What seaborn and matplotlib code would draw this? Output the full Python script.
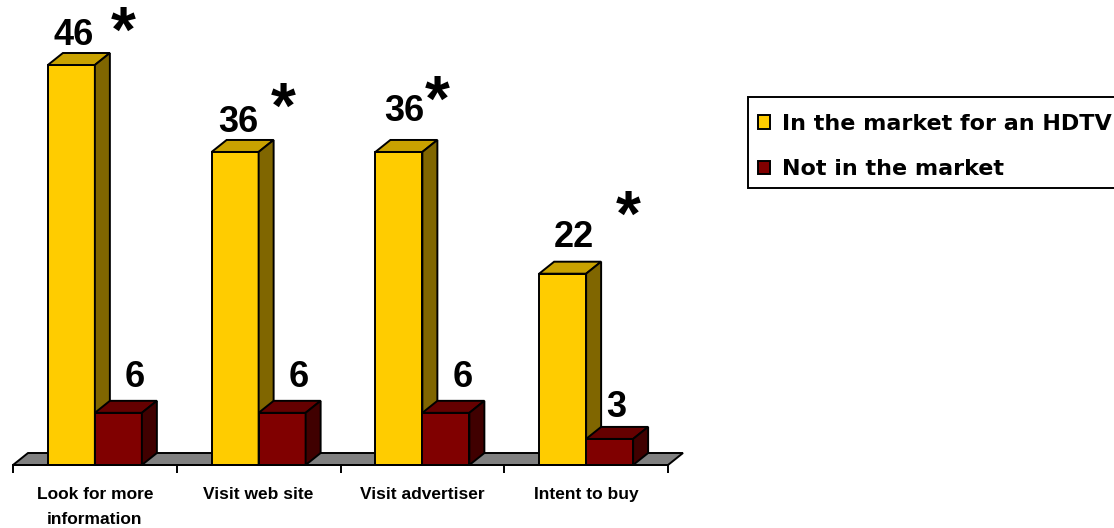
import matplotlib
matplotlib.use("Agg")
import matplotlib.pyplot as plt
from matplotlib.patches import Polygon, Patch, Rectangle
from matplotlib.font_manager import FontProperties
import seaborn as sns
import pandas as pd

# ---------------- data ----------------
categories = ["Look for more\ninformation", "Visit web site", "Visit advertiser", "Intent to buy"]
series_names = ["In the market for an HDTV", "Not in the market"]
in_market = [46, 36, 36, 22]
not_in_market = [6, 6, 6, 3]
significant = [True, True, True, True]

# ---------------- style ----------------
front_colors = ["#FFCC00", "#800000"]
top_colors = ["#C9A200", "#650000"]
side_colors = ["#806600", "#400000"]
floor_color = "#808080"
LW = 1.4

# label offsets in pixels (x, baseline-up) relative to top-centre of bar front
value_offsets = [[(2.5, 20), (3.5, 20), (5.5, 31), (11.5, 27)],
                 [(16.5, 26), (16.5, 26), (16.5, 26), (6.5, 22)]]
star_offsets = [(51.5, 43), (48.5, 54), (38.5, 61), (65.5, 68)]

W, H, DPI = 1114, 528, 100
x_left_px, x_right_px = 13, 668          # band of categories -0.5 .. 3.5
y0_px = 465                               # pixel row of value 0
px_per_y = 400 / 46
px_per_x = (x_right_px - x_left_px) / 4
XL = (-0.55, 3.65)
YL = (-1.2, 52)
ax_left = x_left_px + (XL[0] + 0.5) * px_per_x
ax_right = x_right_px + (XL[1] - 3.5) * px_per_x
ax_bot = y0_px - YL[0] * px_per_y
ax_top = y0_px - YL[1] * px_per_y
DX = 15 / px_per_x
DY = 12 / px_per_y

sns.set_style("white")
plt.rcParams["font.family"] = ["Liberation Sans", "DejaVu Sans"]
plt.rcParams["text.color"] = "black"
plt.rcParams["xtick.color"] = "black"
plt.rcParams["axes.labelcolor"] = "black"

fig = plt.figure(figsize=(W / DPI, H / DPI), dpi=DPI)
ax = fig.add_axes([ax_left / W, 1 - ax_bot / H, (ax_right - ax_left) / W, (ax_bot - ax_top) / H])

df = pd.DataFrame({
    "category": categories * 2,
    "series": [series_names[0]] * len(categories) + [series_names[1]] * len(categories),
    "value": in_market + not_in_market,
})

sns.barplot(data=df, x="category", y="value", hue="series", order=categories,
            hue_order=series_names, palette=front_colors, saturation=1,
            width=0.574, gap=0, edgecolor="black", linewidth=LW,
            errorbar=None, legend=False, ax=ax)

# floor
floor = Polygon([(-0.5, 0), (-0.5 + DX, DY), (3.5 + DX, DY), (3.5, 0)], closed=True,
                facecolor=floor_color, edgecolor="black", linewidth=LW, zorder=1)
ax.add_patch(floor)

# 3-D faces
for j, cont in enumerate(ax.containers):
    for rect in cont.patches:
        x0 = rect.get_x()
        w = rect.get_width()
        h = rect.get_height()
        x1 = x0 + w
        rect.set_zorder(2 + j)
        top = Polygon([(x0, h), (x0 + DX, h + DY), (x1 + DX, h + DY), (x1, h)], closed=True,
                      facecolor=top_colors[j], edgecolor="black", linewidth=LW,
                      joinstyle="miter", zorder=2 + j)
        side = Polygon([(x1, 0), (x1, h), (x1 + DX, h + DY), (x1 + DX, DY)], closed=True,
                       facecolor=side_colors[j], edgecolor="black", linewidth=LW,
                       joinstyle="miter", zorder=2 + j)
        ax.add_patch(top)
        ax.add_patch(side)

# value labels and significance stars
STAR_PT = 46
star_center = 0.465 * STAR_PT * DPI / 72
for j, cont in enumerate(ax.containers):
    for i, rect in enumerate(cont.patches):
        cx = rect.get_x() + rect.get_width() / 2
        h = rect.get_height()
        ox, oy = value_offsets[j][i]
        ax.annotate(f"{h:g}", xy=(cx, h), xytext=(ox, oy), textcoords="offset pixels",
                    ha="center", va="baseline", fontsize=26, fontweight="bold",
                    color="black", zorder=10, annotation_clip=False)
        if j == 0 and significant[i]:
            sx, sy = star_offsets[i]
            ax.annotate("*", xy=(cx, h), xytext=(sx, sy - star_center),
                        textcoords="offset pixels", ha="center", va="baseline",
                        fontsize=STAR_PT, fontweight="bold", color="black",
                        zorder=10, annotation_clip=False)

# axes styling
ax.set_xlim(*XL)
ax.set_ylim(*YL)
ax.set_xlabel("")
ax.set_ylabel("")
ax.set_yticks([])
for s in ["left", "right", "top"]:
    ax.spines[s].set_visible(False)
ax.spines["bottom"].set_position(("data", 0))
ax.spines["bottom"].set_bounds(-0.5, 3.5)
ax.spines["bottom"].set_linewidth(LW)
ax.spines["bottom"].set_color("black")
ax.spines["bottom"].set_zorder(5)

ax.set_xticks([-0.5, 0.5, 1.5, 2.5, 3.5])
ax.set_xticklabels([])
ax.set_xticks(range(len(categories)), minor=True)
ax.set_xticklabels(categories, minor=True, fontsize=12.5, fontweight="bold",
                   linespacing=1.85, color="black")
ax.tick_params(axis="x", which="major", bottom=True, length=5.8, width=LW,
               direction="out", color="black")
ax.tick_params(axis="x", which="minor", bottom=True, length=0, pad=16)
ax.patch.set_alpha(0)

# legend (frame drawn as a figure rectangle, running off the right edge)
fig.patches.append(Rectangle((748 / W, 1 - 188 / H), (W + 20 - 748) / W, 91 / H,
                             transform=fig.transFigure, facecolor="white",
                             edgecolor="black", linewidth=LW, zorder=0))
handles = [Patch(facecolor=c, edgecolor="black", linewidth=LW) for c in front_colors]
leg = fig.legend(handles, series_names, loc="upper left",
                 bbox_to_anchor=(758 / W, 1 - 114 / H), bbox_transform=fig.transFigure,
                 frameon=False, borderaxespad=0, borderpad=0,
                 prop=FontProperties(family="DejaVu Sans", weight="bold", size=16),
                 handlelength=0.55, handleheight=0.55, handletextpad=0.55,
                 labelspacing=1.13, labelcolor="black")

fig.savefig("out.png", dpi=DPI)
